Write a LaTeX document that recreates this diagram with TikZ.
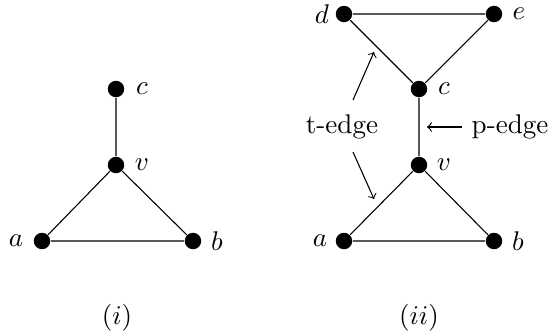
\documentclass[tikz,border=0pt]{standalone}
\begin{document}
\begin{tikzpicture}[x=0.37pt,y=-0.37pt,
  vtx/.style={circle,fill=black,inner sep=0pt,minimum size=6.1pt},
  lbl/.style={inner sep=1pt},
  edge/.style={line width=0.4pt},
  pointer/.style={->,line width=0.4pt}]
\useasboundingbox (0,0) rectangle (555,334);
% left graph
\node[vtx] (c1) at (116,89) {};
\node[vtx] (v1) at (116,165) {};
\node[vtx] (a1) at (42,241) {};
\node[vtx] (b1) at (193,241) {};
\node[lbl] at (142,89) {$c$};
\node[lbl] at (142,165) {$v$};
\node[lbl] at (16,241) {$a$};
\node[lbl] at (217,241) {$b$};
\draw[edge] (c1) -- (v1) -- (a1) -- (b1) -- (v1);
\node (l1) at (117,318) {$(i)$};
% right graph
\node[vtx] (d2) at (344,14) {};
\node[vtx] (e2) at (494,14) {};
\node[vtx] (c2) at (419,89) {};
\node[vtx] (v2) at (419,165) {};
\node[vtx] (a2) at (344,241) {};
\node[vtx] (b2) at (494,241) {};
\node[lbl] at (322,14) {$d$};
\node[lbl] at (519,14) {$e$};
\node[lbl] at (444,89) {$c$};
\node[lbl] at (444,165) {$v$};
\node[lbl] at (320,241) {$a$};
\node[lbl] at (518,241) {$b$};
\draw[edge] (d2) -- (e2) -- (c2) -- (d2);
\draw[edge] (c2) -- (v2) -- (a2) -- (b2) -- (v2);
\node (te) at (342,127) {t-edge};
\node (pe) at (510,127) {p-edge};
\coordinate (tu) at (374,52);
\coordinate (td) at (374,199);
\coordinate (pt) at (427,127);
\draw[pointer] (353,100) -- (tu);
\draw[pointer] (353,152) -- (td);
\draw[pointer] (pe.west) -- (pt);
\node (l2) at (419,318) {$(ii)$};
\end{tikzpicture}
\end{document}
